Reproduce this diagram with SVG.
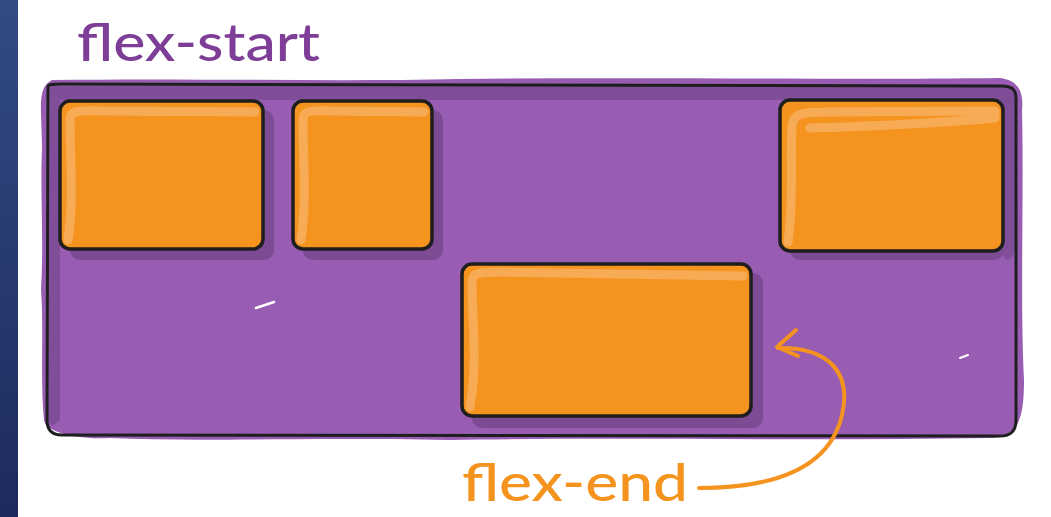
<svg xmlns="http://www.w3.org/2000/svg" width="1051" height="517" viewBox="0 0 1051 517">
<defs>
<linearGradient id="strip" x1="0" y1="0" x2="0" y2="1">
<stop offset="0" stop-color="#314b83"/>
<stop offset="1" stop-color="#1e2a5c"/>
</linearGradient>
<style>
.box{fill:#f5931f;stroke:#1e1e1e;stroke-width:3.5}
.shadow{fill:#7c4b94}
.hl{fill:none;stroke:#f8ab55;stroke-width:9;stroke-linecap:round;stroke-linejoin:round}
.lbl{font-family:Lato,"Open Sans","Noto Sans",sans-serif;font-weight:500}
</style>
</defs>
<rect width="1051" height="517" fill="#ffffff"/>
<rect x="0" y="0" width="18" height="517" fill="url(#strip)"/>

<g id="container">
<path d="M52,80 C200,78 330,82 460,79 C650,77 850,80 1000,78 C1018,80 1024,92 1022,110 C1024,200 1020,300 1024,380 C1024,420 1018,437 990,438 C800,441 600,437 450,440 C300,437 200,442 110,438 C70,440 45,430 44,420 C40,380 44,330 41,290 C44,240 40,190 42,150 C42,110 36,88 52,80 Z" fill="#985cb3"/>
<path d="M50,86 L1014,86 L1014,104 L1000,102 L1000,100 L60,100 L60,420 L52,426 L48,420 Z" fill="#7d4b95" opacity="0.9"/>
<path d="M1003,100 L1015,94 L1015,250 C1012,262 1006,262 1003,255 Z" fill="#7d4b95" opacity="0.85"/>
<path d="M256,308 L274,302" stroke="#ffffff" stroke-width="2.5" stroke-linecap="round"/>
<path d="M960,358 L968,355" stroke="#ffffff" stroke-width="2" stroke-linecap="round"/>
<path d="M48,87 C48,85 50,84 60,84 L1002,86 C1012,86 1016,90 1016,98 L1016,420 C1016,432 1010,436 1000,436 L62,435 C52,435 47,430 47,420 Z" fill="none" stroke="#1e1e1e" stroke-width="3"/>
</g>

<g id="item1">
<rect class="shadow" x="70" y="110" width="204" height="150" rx="10"/>
<rect class="box" x="60" y="101" width="203" height="148" rx="10"/>
<path class="hl" d="M68,240 C74,200 70,160 70,120 C70,112 74,110 100,111 L255,112"/>
</g>
<g id="item2">
<rect class="shadow" x="303" y="110" width="140" height="150" rx="10"/>
<rect class="box" x="293" y="101" width="139" height="148" rx="10"/>
<path class="hl" d="M301,240 C307,200 303,160 303,120 C303,112 307,110 330,111 L424,112"/>
</g>
<g id="item3">
<rect class="shadow" x="790" y="110" width="214" height="150" rx="10"/>
<rect class="box" x="780" y="100" width="223" height="151" rx="10"/>
<path class="hl" d="M788,242 C794,200 790,160 792,125 C794,114 800,112 830,112 L995,111 L995,118 C950,122 880,126 810,128"/>
</g>
<g id="item4">
<rect class="shadow" x="472" y="273" width="291" height="155" rx="10"/>
<rect class="box" x="462" y="264" width="289" height="152" rx="10"/>
<path class="hl" d="M470,407 C478,360 472,320 472,282 C472,274 476,272 500,272 L743,276"/>
</g>

<g id="labels">
<text class="lbl" x="77" y="61" font-size="52" fill="#7e3d96" textLength="243" lengthAdjust="spacingAndGlyphs">flex-start</text>
<text class="lbl" x="462" y="501" font-size="52" fill="#f5931f" textLength="226" lengthAdjust="spacingAndGlyphs">flex-end</text>
</g>

<g id="connectors">
<path d="M699,488 C760,488 828,475 842,415 C852,372 828,347 778,348" fill="none" stroke="#f5931f" stroke-width="4" stroke-linecap="round"/>
<path d="M796,330 L777,347 L798,356" fill="none" stroke="#f5931f" stroke-width="4" stroke-linecap="round" stroke-linejoin="round"/>
</g>
</svg>
